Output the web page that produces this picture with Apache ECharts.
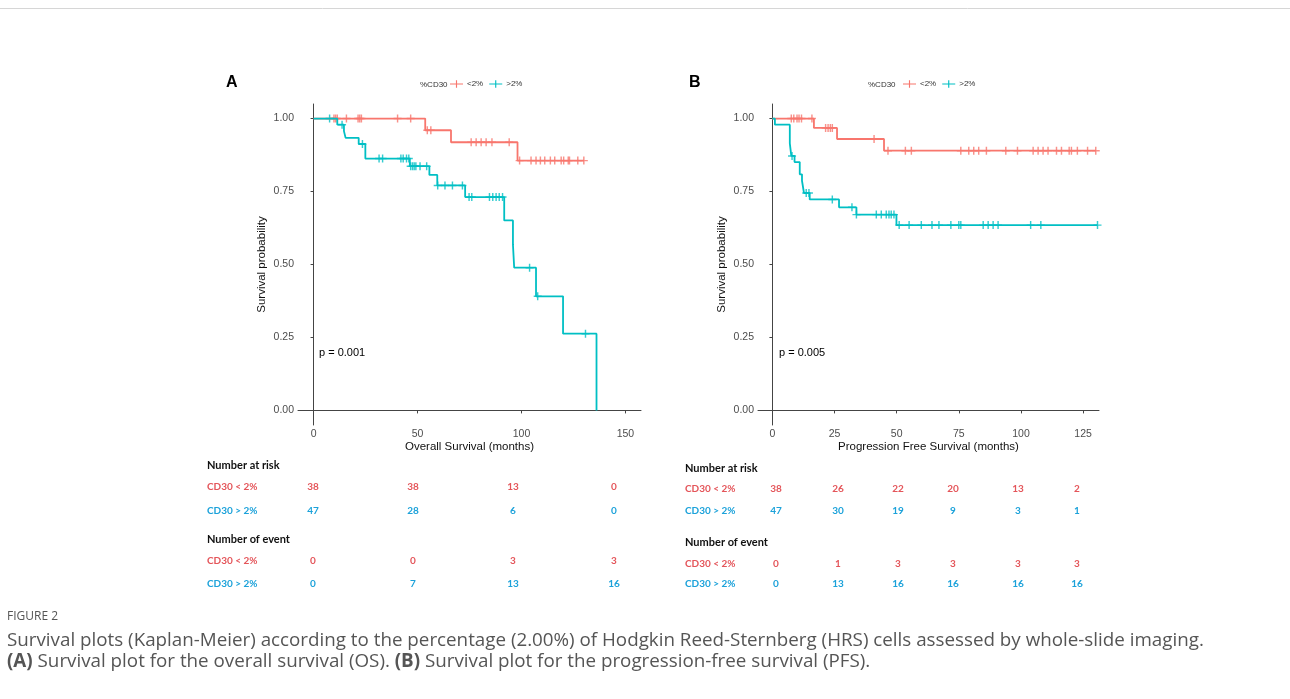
<!DOCTYPE html>
<html>
<head>
<meta charset="utf-8">
<title>Figure 2 - Kaplan-Meier</title>
<script src="https://cdn.jsdelivr.net/npm/echarts@6/dist/echarts.min.js"></script>
<style>
  html, body { margin: 0; padding: 0; background: #fff; }
  #chart { width: 1290px; height: 699px; }
</style>
</head>
<body>
<div id="chart"></div>
<script>
// ---- data ----
// step curves: time (months) where survival changes, and survival from then on
const osLowTimes = [0, 53.7, 66.1, 98.1, 130.0];
const osLowSurv = [1, 0.960, 0.919, 0.856, 0.856];
const osLowCensor = [9.8, 10.6, 11.4, 15.8, 21.4, 22.2, 23.0, 40.4, 46.7, 54.7, 56.4,
  75.8, 78.2, 80.6, 83.0, 85.8, 94.1, 99.1, 104.6, 107.0, 109.1, 111.2, 113.9, 116.0,
  119.1, 120.3, 122.5, 123.1, 127.1, 130.0];

const osHighTimes = [0, 11.4, 14.6, 15.4, 21.7, 24.9, 46.3, 55.7, 59.5, 72.9, 91.7, 95.9, 96.5, 107.0, 120.0, 136.1];
const osHighSurv = [1, 0.979, 0.957, 0.934, 0.913, 0.863, 0.837, 0.807, 0.771, 0.731, 0.651, 0.568, 0.489, 0.391, 0.263, 0];
const osHighCensor = [7.7, 13.7, 23.5, 31.5, 33.2, 42.0, 43.1, 44.7, 45.8, 46.7, 47.6, 48.4,
  49.2, 51.2, 54.4, 59.7, 63.2, 66.8, 71.6, 74.8, 76.1, 84.6, 86.2, 87.8, 89.3, 90.9,
  103.9, 107.8, 130.8];

const pfsLowTimes = [0, 16.7, 26.0, 44.9, 130.1];
const pfsLowSurv = [1, 0.968, 0.930, 0.890, 0.890];
const pfsLowCensor = [7.6, 8.6, 9.9, 10.7, 11.7, 15.9, 21.4, 22.4, 23.3, 24.1, 40.9, 46.5,
  53.5, 55.9, 75.8, 79.0, 81.0, 83.0, 86.1, 93.9, 98.6, 104.9, 106.9, 108.9, 110.9,
  114.3, 116.3, 119.4, 120.3, 122.7, 126.8, 130.1];

const pfsHighTimes = [0, 1.0, 7.0, 7.6, 8.9, 11.0, 11.9, 12.7, 15.0, 26.8, 33.8, 49.9, 130.8];
const pfsHighSurv = [1, 0.979, 0.915, 0.872, 0.851, 0.809, 0.787, 0.745, 0.723, 0.696, 0.671, 0.635, 0.635];
const pfsHighCensor = [7.9, 13.6, 14.7, 24.1, 32.0, 33.8, 41.8, 43.8, 45.8, 46.9, 47.8, 48.9,
  51.0, 55.0, 59.9, 64.2, 67.0, 71.8, 75.0, 75.8, 84.8, 86.8, 88.8, 90.8, 103.9, 108.0, 130.8];

const osTicks = [0, 50, 100, 150];
const pfsTicks = [0, 25, 50, 75, 100, 125];
const survTicks = [0, 0.25, 0.5, 0.75, 1];

// risk / event tables
const osRiskLow = [38, 38, 13, 0];
const osRiskHigh = [47, 28, 6, 0];
const osEventLow = [0, 0, 3, 3];
const osEventHigh = [0, 7, 13, 16];
const pfsRiskLow = [38, 26, 22, 20, 13, 2];
const pfsRiskHigh = [47, 30, 19, 9, 3, 1];
const pfsEventLow = [0, 1, 3, 3, 3, 3];
const pfsEventHigh = [0, 13, 16, 16, 16, 16];

const RED = '#F8766D', TEAL = '#00BFC4';
const TRED = '#E4555A', TBLUE = '#1CA2DA';
const plusIcon = 'path://M0,4.1H10V5.9H0Z M4.1,0H5.9V10H4.1Z';
const legendIcon = 'path://M0,4.4H16V5.6H0Z M7.3,0.5H8.7V9.5H7.3Z';

function curve(times, surv) {
  return times.map((t, i) => [t, surv[i]]);
}
function censorPoints(censor, times, surv) {
  return censor.map(c => {
    let s = surv[0];
    for (let i = 0; i < times.length; i++) if (times[i] <= c) s = surv[i];
    return [c, s];
  });
}

const chart = echarts.init(document.getElementById('chart'));

const axisLine = { show: true, lineStyle: { color: '#444', width: 1 } };
const tickStyle = { show: true, length: 3, lineStyle: { color: '#444' } };
const labelStyle = { color: '#4d4d4d', fontSize: 10.5, fontFamily: 'Liberation Sans' };
const nameStyle = { color: '#111', fontSize: 11.5, fontFamily: 'Liberation Sans' };

function xAxis(gi, min, max, ticks, name) {
  return {
    type: 'value', gridIndex: gi, min: min, max: max,
    name: name, nameLocation: 'middle', nameGap: 16, nameTextStyle: nameStyle,
    axisLine: axisLine, splitLine: { show: false },
    axisTick: Object.assign({ customValues: ticks }, tickStyle),
    axisLabel: Object.assign({ customValues: ticks, margin: 4 }, labelStyle)
  };
}
function yAxis(gi) {
  return {
    type: 'value', gridIndex: gi, min: -0.05, max: 1.05,
    name: 'Survival probability', nameLocation: 'middle', nameGap: 30, nameTextStyle: nameStyle,
    axisLine: axisLine, splitLine: { show: false },
    axisTick: Object.assign({ customValues: survTicks }, tickStyle),
    axisLabel: Object.assign({ customValues: survTicks, margin: 4, formatter: v => v.toFixed(2) }, labelStyle)
  };
}

function kmSeries(name, idx, color, times, surv, censor) {
  return [
    {
      name: name, type: 'line', step: 'end', xAxisIndex: idx, yAxisIndex: idx,
      data: curve(times, surv), showSymbol: false, symbol: 'none',
      lineStyle: { color: color, width: 1.8 }, itemStyle: { color: color },
      animation: false, silent: true
    },
    {
      name: name + ' censored', type: 'scatter', xAxisIndex: idx, yAxisIndex: idx,
      data: censorPoints(censor, times, surv), symbol: plusIcon, symbolSize: 8,
      itemStyle: { color: color }, animation: false, silent: true
    }
  ];
}

const graphics = [];
function txt(x, y, text, style) {
  graphics.push({
    type: 'text', x: x, y: y,
    style: Object.assign({ text: text, fontFamily: 'Liberation Sans', fontSize: 11, fill: '#111',
      verticalAlign: 'middle' }, style)
  });
}

// panel letters, legend titles, p-values
txt(226, 83, 'A', { fontSize: 16, fontWeight: 'bold', fill: '#000' });
txt(689, 83, 'B', { fontSize: 16, fontWeight: 'bold', fill: '#000' });
txt(420, 85, '%CD30', { fontSize: 8, fill: '#333' });
txt(868, 85, '%CD30', { fontSize: 8, fill: '#333' });
txt(319, 353, 'p = 0.001', { fontSize: 11, fill: '#000' });
txt(779, 353, 'p = 0.005', { fontSize: 11, fill: '#000' });

// number at risk / number of events tables
const tFont = 'Lato';
function table(x0, cols, rowsY, headY, risk, events) {
  txt(x0, headY[0], 'Number at risk', { fontFamily: tFont, fontWeight: 'bold', fontSize: 11, fill: '#111' });
  txt(x0, headY[1], 'Number of event', { fontFamily: tFont, fontWeight: 'bold', fontSize: 11, fill: '#111' });
  const labels = ['CD30 < 2%', 'CD30 > 2%'];
  const colors = [TRED, TBLUE];
  [risk, events].forEach((blk, b) => {
    blk.forEach((vals, r) => {
      const y = rowsY[b * 2 + r];
      txt(x0, y, labels[r], { fontFamily: tFont, fontWeight: 'bold', fontSize: 10, fill: colors[r] });
      vals.forEach((v, c) => {
        txt(cols[c], y, String(v), { fontFamily: tFont, fontWeight: 'bold', fontSize: 10, fill: colors[r], align: 'center' });
      });
    });
  });
}
table(207, [313, 413, 513, 614], [487, 510.5, 561, 584], [465, 539],
  [osRiskLow, osRiskHigh], [osEventLow, osEventHigh]);
table(685, [776, 838, 898, 953, 1018, 1077], [489, 510.5, 563.5, 584], [468, 542.5],
  [pfsRiskLow, pfsRiskHigh], [pfsEventLow, pfsEventHigh]);

// caption
txt(7, 617, 'FIGURE 2', { fontFamily: 'Open Sans', fontSize: 12, fill: '#555' });
graphics.push({
  type: 'text', x: 7, y: 641,
  style: {
    text: 'Survival plots (Kaplan-Meier) according to the percentage (2.00%) of Hodgkin Reed-Sternberg (HRS) cells assessed by whole-slide imaging.',
    fontFamily: 'Open Sans', fontSize: 18.8, fill: '#555', verticalAlign: 'middle'
  }
});
graphics.push({
  type: 'text', x: 7, y: 662,
  style: {
    text: '{b|(A)} Survival plot for the overall survival (OS). {b|(B)} Survival plot for the progression-free survival (PFS).',
    fontFamily: 'Open Sans', fontSize: 18.8, fill: '#555', verticalAlign: 'middle',
    rich: { b: { fontFamily: 'Open Sans', fontSize: 18.8, fontWeight: 'bold', fill: '#555' } }
  }
});
// frame line at the top
graphics.push({ type: 'line', shape: { x1: 0, y1: 8.5, x2: 1290, y2: 8.5 }, style: { stroke: '#d6d6d6', lineWidth: 1 } });

function legend(left) {
  return {
    left: left, top: 80, orient: 'horizontal', padding: 0,
    data: ['<2%', '>2%'], icon: legendIcon, itemWidth: 13, itemHeight: 9, itemGap: 6,
    textStyle: { fontSize: 8, color: '#333', fontFamily: 'Liberation Sans', padding: [0, 0, 0, -1] },
    selectedMode: false
  };
}

const option = {
  backgroundColor: '#fff',
  animation: false,
  textStyle: { fontFamily: 'Liberation Sans' },
  grid: [
    { left: 298, top: 104, width: 343, height: 321 },
    { left: 758, top: 104, width: 341, height: 321 }
  ],
  legend: [legend(450), legend(903)],
  xAxis: [
    xAxis(0, -7.5, 157.5, osTicks, 'Overall Survival (months)'),
    xAxis(1, -5.8, 131.4, pfsTicks, 'Progression Free Survival (months)')
  ],
  yAxis: [yAxis(0), yAxis(1)],
  series: [].concat(
    kmSeries('<2%', 0, RED, osLowTimes, osLowSurv, osLowCensor),
    kmSeries('>2%', 0, TEAL, osHighTimes, osHighSurv, osHighCensor),
    kmSeries('<2%', 1, RED, pfsLowTimes, pfsLowSurv, pfsLowCensor),
    kmSeries('>2%', 1, TEAL, pfsHighTimes, pfsHighSurv, pfsHighCensor)
  ),
  graphic: graphics
};
chart.setOption(option);
</script>
</body>
</html>
